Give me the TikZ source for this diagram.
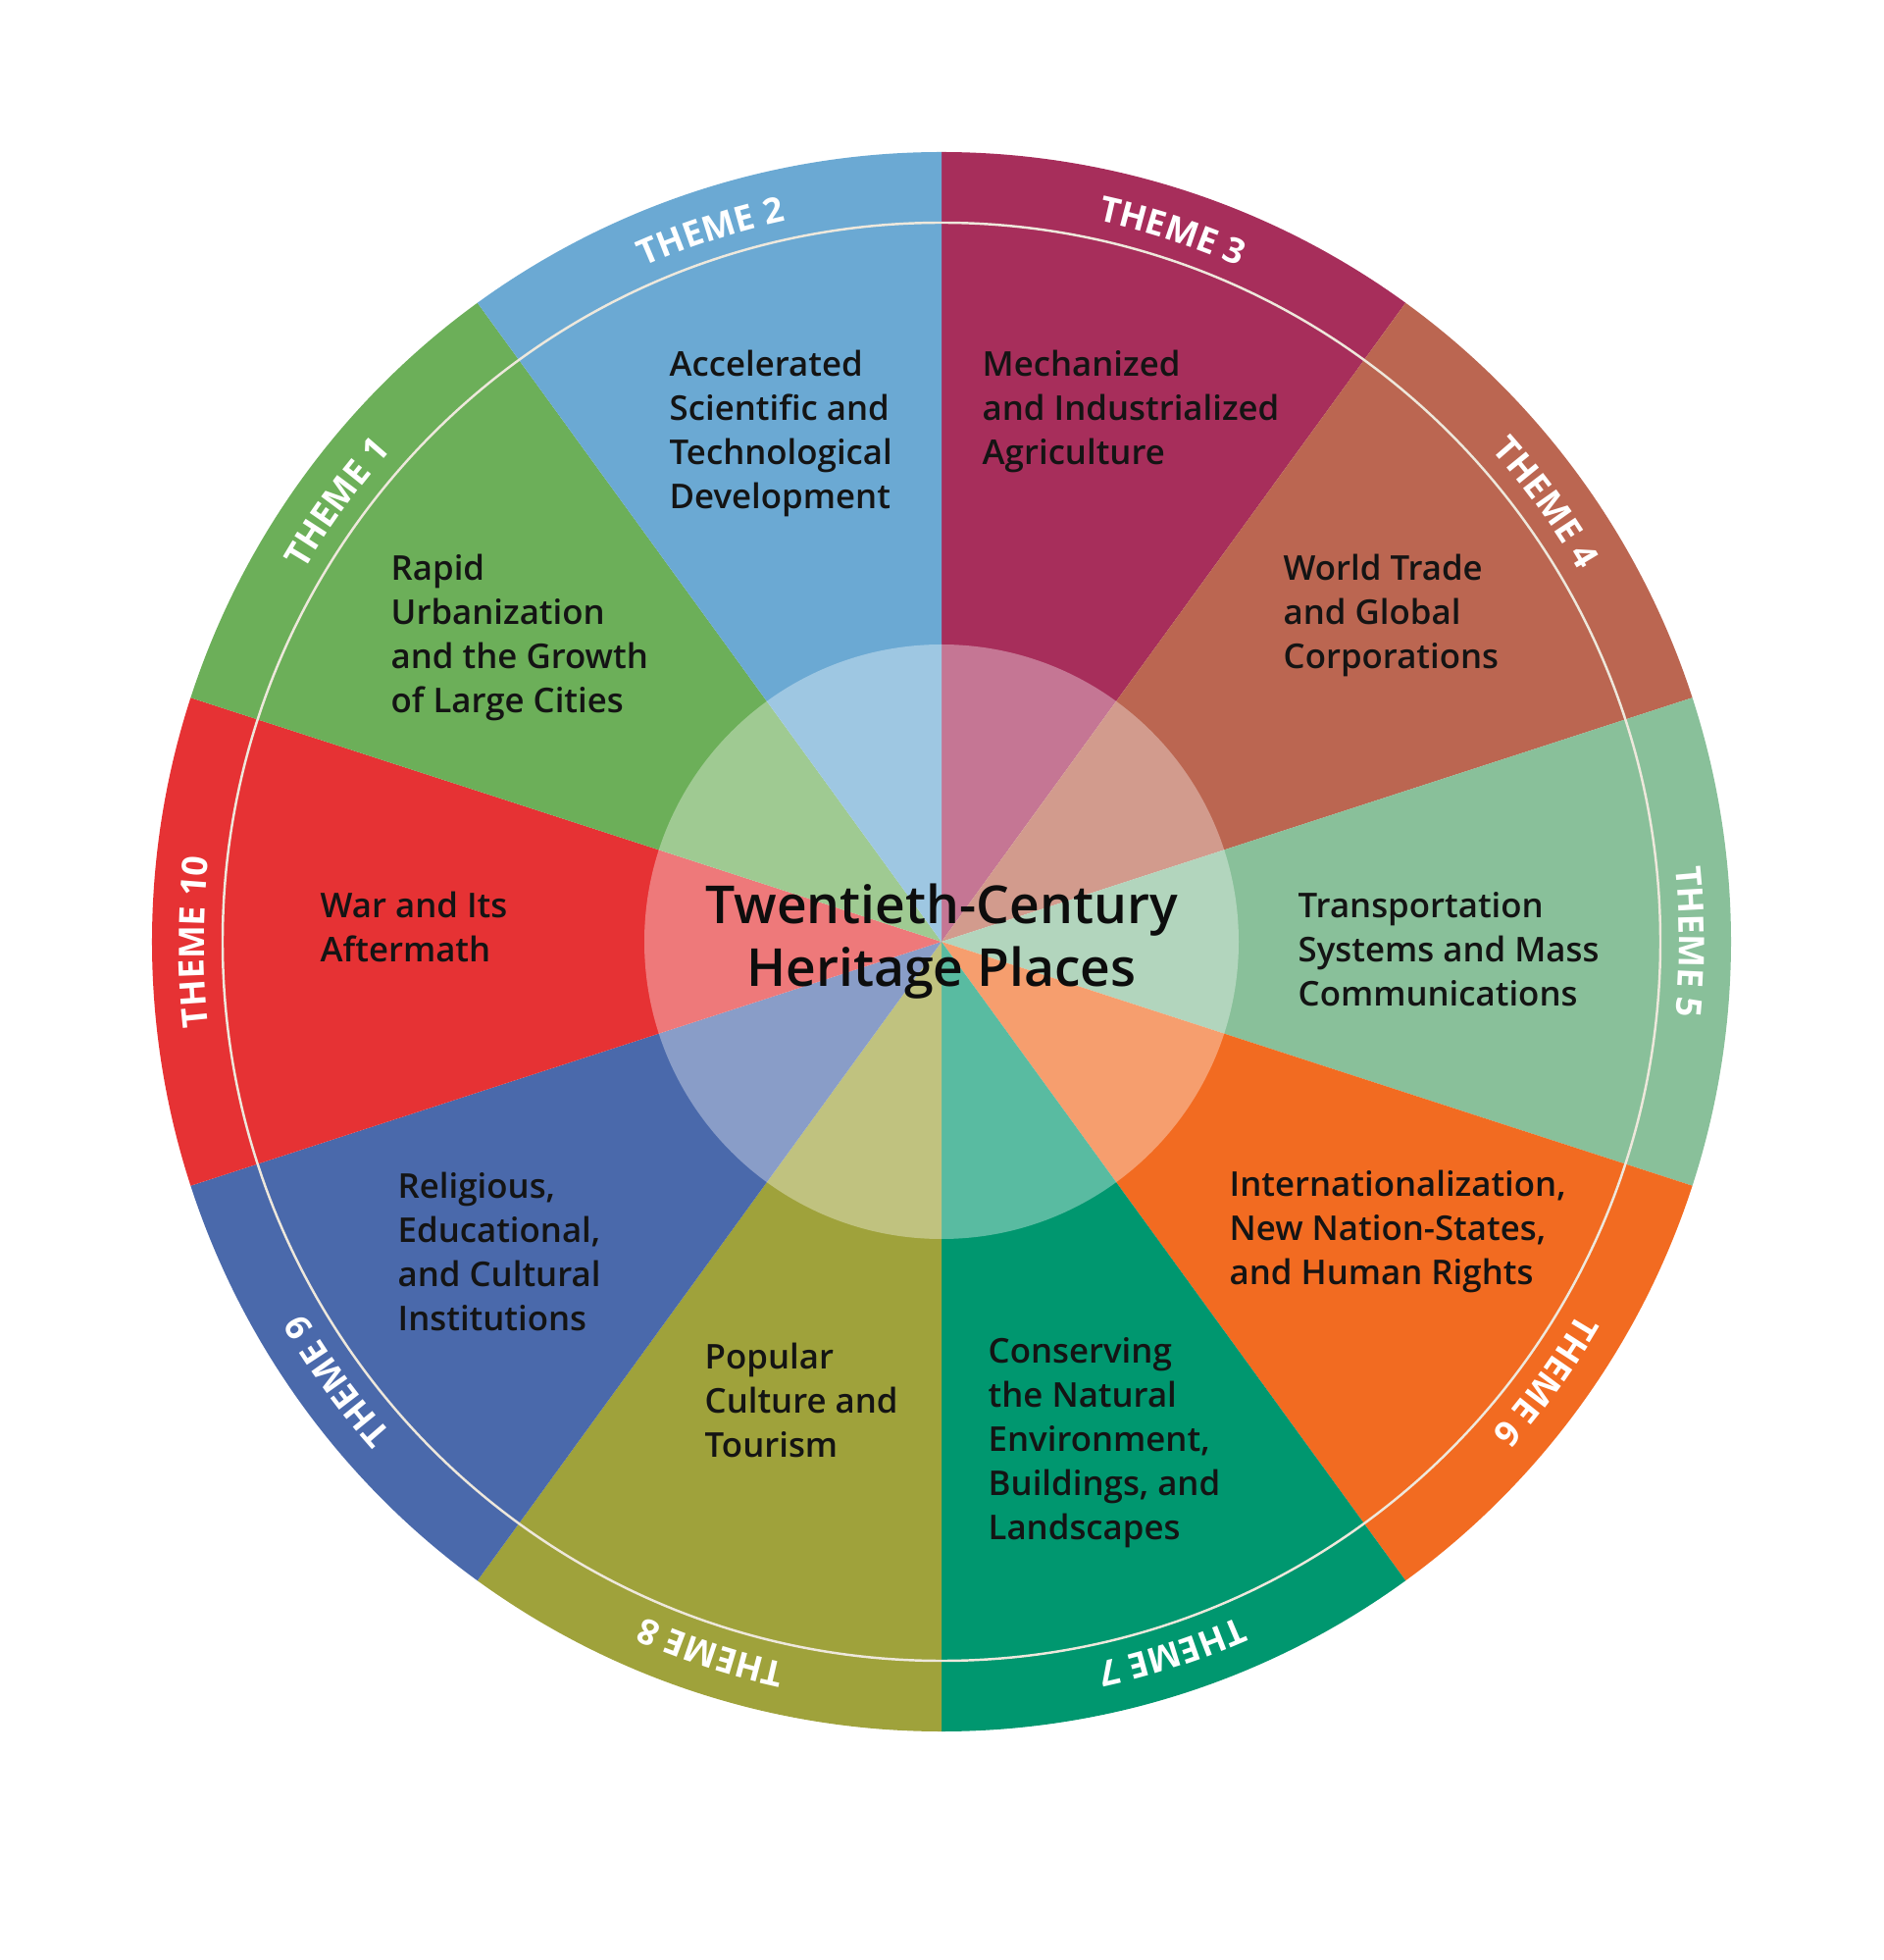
\documentclass[tikz,border=0pt]{standalone}
\usepackage{fontspec}
\setmainfont{Open Sans}
\IfFontExistsTF{Open Sans SemiBold}
    {\newfontfamily\wedgefont{Open Sans SemiBold}}
    {\IfFontExistsTF{Open Sans Semibold}
        {\newfontfamily\wedgefont{Open Sans Semibold}}
        {\newfontfamily\wedgefont{Open Sans}}}
\usetikzlibrary{decorations.text}

\definecolor{themeA}{HTML}{6CAF59}
\definecolor{themeB}{HTML}{6BA9D3}
\definecolor{themeC}{HTML}{A72E5B}
\definecolor{themeD}{HTML}{BB6651}
\definecolor{themeE}{HTML}{89C09A}
\definecolor{themeF}{HTML}{F26B21}
\definecolor{themeG}{HTML}{00976F}
\definecolor{themeH}{HTML}{9FA23B}
\definecolor{themeI}{HTML}{4A69AB}
\definecolor{themeJ}{HTML}{E63234}
\definecolor{cream}{HTML}{EEE8DC}
\newcommand\themefont{\bfseries\fontsize{10.2}{12}\selectfont\color{white}}

\begin{document}
\begin{tikzpicture}[wt/.style={anchor=west, align=left, inner sep=0pt, text=black!92,
                        font=\wedgefont\fontsize{9.9}{12.8}\selectfont},
                    ct/.style={align=center, inner sep=0pt, text=black!95,
                        font=\wedgefont\fontsize{15.2}{18.2}\selectfont},
                    divider/.style={draw=cream, line width=1.15pt},
                    ringline/.style={draw=cream, line width=0.7pt},
                    themelabel/.style={decorate, decoration={text along path, text align=center,
                        text={|\themefont|#1}}}]
            \useasboundingbox (-9.6,-10.38) rectangle (9.6,9.6);

            \fill[themeC] (0,0) -- (90:8.05)   arc[start angle=90,   end angle=54,   radius=8.05] -- cycle;
            \fill[themeD] (0,0) -- (54:8.05)   arc[start angle=54,   end angle=18,   radius=8.05] -- cycle;
            \fill[themeE] (0,0) -- (18:8.05)   arc[start angle=18,   end angle=-18,  radius=8.05] -- cycle;
            \fill[themeF] (0,0) -- (-18:8.05)  arc[start angle=-18,  end angle=-54,  radius=8.05] -- cycle;
            \fill[themeG] (0,0) -- (-54:8.05)  arc[start angle=-54,  end angle=-90,  radius=8.05] -- cycle;
            \fill[themeH] (0,0) -- (-90:8.05)  arc[start angle=-90,  end angle=-126, radius=8.05] -- cycle;
            \fill[themeI] (0,0) -- (-126:8.05) arc[start angle=-126, end angle=-162, radius=8.05] -- cycle;
            \fill[themeJ] (0,0) -- (-162:8.05) arc[start angle=-162, end angle=-198, radius=8.05] -- cycle;
            \fill[themeA] (0,0) -- (162:8.05)  arc[start angle=162,  end angle=126,  radius=8.05] -- cycle;
            \fill[themeB] (0,0) -- (126:8.05)  arc[start angle=126,  end angle=90,   radius=8.05] -- cycle;

            \fill[white, opacity=0.35] (0,0) circle (3.03);
            \draw[ringline] (0,0) circle (7.33);

            \begin{scope}[divider]
                \path (0,0) -- (90:8.05);
                \path (0,0) -- (54:8.05);
                \path (0,0) -- (18:8.05);
                \path (0,0) -- (-18:8.05);
                \path (0,0) -- (-54:8.05);
                \path (0,0) -- (-90:8.05);
                \path (0,0) -- (-126:8.05);
                \path (0,0) -- (-162:8.05);
                \path (0,0) -- (162:8.05);
                \path (0,0) -- (126:8.05);
            \end{scope}

            \path[themelabel=THEME 1]  (166:7.52)  arc[start angle=166,  end angle=122,  radius=7.52];
            \path[themelabel=THEME 2]  (130:7.52)  arc[start angle=130,  end angle=86,   radius=7.52];
            \path[themelabel=THEME 3]  (94:7.52)   arc[start angle=94,   end angle=50,   radius=7.52];
            \path[themelabel=THEME 4]  (58:7.52)   arc[start angle=58,   end angle=14,   radius=7.52];
            \path[themelabel=THEME 5]  (22:7.52)   arc[start angle=22,   end angle=-22,  radius=7.52];
            \path[themelabel=THEME 6]  (-14:7.52)  arc[start angle=-14,  end angle=-58,  radius=7.52];
            \path[themelabel=THEME 7]  (-50:7.52)  arc[start angle=-50,  end angle=-94,  radius=7.52];
            \path[themelabel=THEME 8]  (-86:7.52)  arc[start angle=-86,  end angle=-130, radius=7.52];
            \path[themelabel=THEME 9]  (-122:7.52) arc[start angle=-122, end angle=-166, radius=7.52];
            \path[themelabel=THEME 10] (-158:7.52) arc[start angle=-158, end angle=-202, radius=7.52];

            \node[wt] (t1)  at (-5.62,3.10)  {Rapid\\Urbanization\\and the Growth\\of Large Cities};
            \node[wt] (t2)  at (-2.78,5.18)  {Accelerated\\Scientific and\\Technological\\Development};
            \node[wt] (t3)  at (0.41,5.41)   {Mechanized\\and Industrialized\\Agriculture};
            \node[wt] (t4)  at (3.48,3.33)   {World Trade\\and Global\\Corporations};
            \node[wt] (t5)  at (3.63,-0.08)  {Transportation\\Systems and Mass\\Communications};
            \node[wt] (t6)  at (2.93,-2.95)  {Internationalization,\\New Nation-States,\\and Human Rights};
            \node[wt] (t7)  at (0.47,-5.11)  {Conserving\\the Natural\\Environment,\\Buildings, and\\Landscapes};
            \node[wt] (t8)  at (-2.42,-4.67) {Popular\\Culture and\\Tourism};
            \node[wt] (t9)  at (-5.55,-3.16) {Religious,\\Educational,\\and Cultural\\Institutions};
            \node[wt] (t10) at (-6.34,0.15)  {War and Its\\Aftermath};

            \node[ct] (title) at (0,0) {Twentieth-Century\\Heritage Places};
        \end{tikzpicture}
\end{document}
